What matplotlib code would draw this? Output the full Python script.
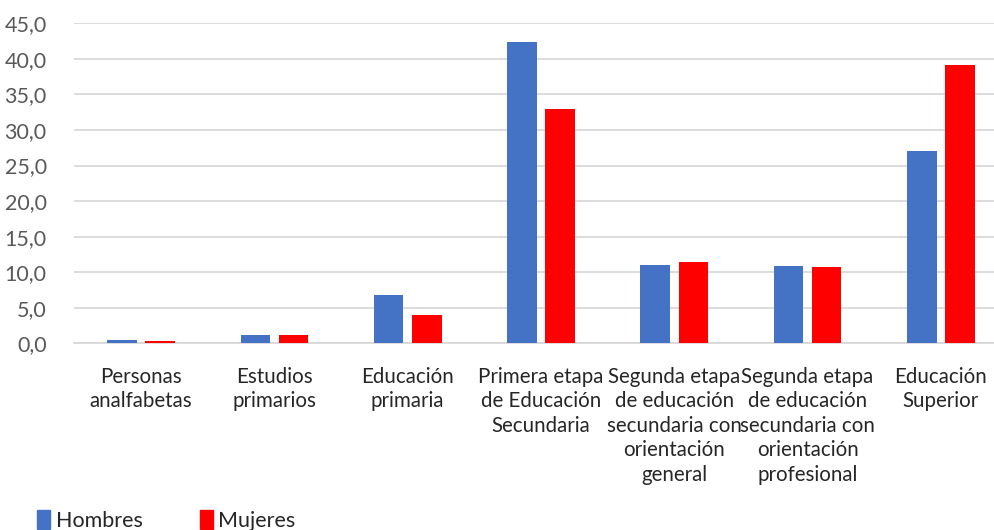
import matplotlib
matplotlib.use("Agg")
import matplotlib.pyplot as plt
import numpy as np
from matplotlib.patches import Patch

categories = [
    "Personas\nanalfabetas",
    "Estudios\nprimarios",
    "Educación\nprimaria",
    "Primera etapa\nde Educación\nSecundaria",
    "Segunda etapa\nde educación\nsecundaria con\norientación\ngeneral",
    "Segunda etapa\nde educación\nsecundaria con\norientación\nprofesional",
    "Educación\nSuperior",
]
hombres = [0.4, 1.2, 6.8, 42.4, 11.0, 10.9, 27.0]
mujeres = [0.3, 1.1, 4.0, 32.9, 11.4, 10.7, 39.1]
yticks = [0, 5, 10, 15, 20, 25, 30, 35, 40, 45]
ytick_labels = ["0,0", "5,0", "10,0", "15,0", "20,0", "25,0", "30,0", "35,0", "40,0", "45,0"]

plt.rcParams['font.family'] = ['Lato', 'DejaVu Sans']

W, H = 995, 530
fig = plt.figure(figsize=(W / 100, H / 100), dpi=100)
ax = fig.add_axes([74.5 / W, (H - 343.3) / H, 933 / W, 320 / H])

x = np.arange(len(categories))
bw = 0.222
off = 0.143
ax.bar(x - off, hombres, bw, color="#4472C4", label="Hombres", zorder=3)
ax.bar(x + off, mujeres, bw, color="#FF0000", label="Mujeres", zorder=3)

ax.set_xlim(-0.5, len(categories) - 0.5)
ax.set_ylim(0, 45)
ax.set_yticks(yticks)
ax.set_yticklabels(ytick_labels)
ax.set_xticks(x)
ax.set_xticklabels(categories, linespacing=1.28)

ax.grid(axis="y", color="#D9D9D9", linewidth=1.3, zorder=0)
for s in ["top", "right", "left"]:
    ax.spines[s].set_visible(False)
ax.spines["bottom"].set_color("#D9D9D9")
ax.spines["bottom"].set_linewidth(1.3)
ax.tick_params(axis="y", length=0, colors="#595959", labelsize=15.5, pad=20)
ax.tick_params(axis="x", length=0, pad=17, labelsize=14.8, colors="#262626")
for t in ax.get_xticklabels():
    t.set_color("#262626")
    t.set_va("top")

handles = [Patch(color="#4472C4", label="Hombres"), Patch(color="#FF0000", label="Mujeres")]
fig.legend(handles=handles, loc="lower left", bbox_to_anchor=(18 / W, -20 / H), ncol=2,
           frameon=False, fontsize=15.5, handlelength=0.6, handleheight=1.0,
           handletextpad=0.25, columnspacing=2.65, labelcolor="#262626")

fig.savefig("out.png", dpi=100)
